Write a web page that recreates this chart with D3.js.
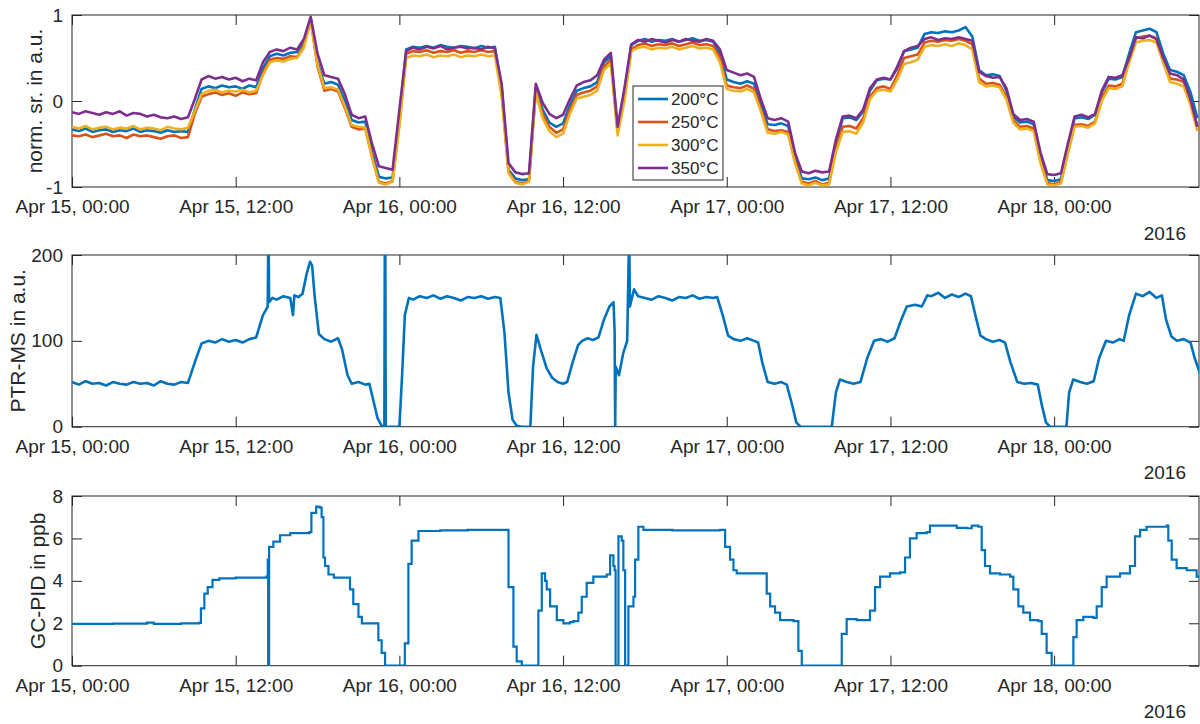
<!DOCTYPE html>
<html>
<head>
<meta charset="utf-8">
<script src="https://cdn.jsdelivr.net/npm/d3@7"></script>
<style>
  body { margin: 0; background: #fff; }
  svg text { font-family: "Liberation Sans", Arial, sans-serif; fill: #262626; }
</style>
</head>
<body>
<svg width="1200" height="724"></svg>
<script>
// time is kept as hours after Apr 15 2016, 00:00
const startDate = new Date(2016, 3, 15, 0, 0);
const endHour = 82.62;
const xTickHours = [0, 12, 24, 36, 48, 60, 72];
const yearLabel = "2016";

const normTicks = [-1, 0, 1];
const ptrTicks = [0, 100, 200];
const gcTicks = [0, 2, 4, 6, 8];

const legendLabels = ["200°C", "250°C", "300°C", "350°C"];
const colors = ["#0072BD", "#D95319", "#EDB120", "#7E2F8E"];

// sensor signals, one value every half hour
const normHours = d3.range(0, 83, 0.5);
const norm200 = [
  -0.33, -0.35, -0.32, -0.36, -0.34, -0.33, -0.36, -0.34, -0.35, -0.32, -0.36, -0.34, -0.35, -0.37, -0.34, -0.36, -0.35, -0.36,
  -0.1, 0.14,
  0.17, 0.15, 0.18, 0.16, 0.17, 0.14, 0.18, 0.16,
  0.38, 0.52,
  0.55, 0.53, 0.56, 0.57,
  0.7, 0.95, 0.45,
  0.2, 0.22, 0.19,
  0.0, -0.22,
  -0.25, -0.24,
  -0.6,
  -0.88, -0.9, -0.89,
  -0.2,
  0.6, 0.63, 0.62, 0.64, 0.62, 0.65, 0.63, 0.62, 0.64, 0.63, 0.61, 0.64, 0.62, 0.63,
  0.15, -0.8,
  -0.9, -0.92, -0.91,
  0.15, -0.1, -0.25, -0.3, -0.26, -0.05, 0.12, 0.15, 0.17, 0.22,
  0.45, 0.52, -0.33, 0.1,
  0.65, 0.7, 0.72, 0.69, 0.71, 0.7, 0.72, 0.69, 0.71, 0.73, 0.7, 0.71, 0.69,
  0.55,
  0.25, 0.22, 0.2, 0.23, 0.2,
  -0.05,
  -0.27, -0.28, -0.26, -0.29,
  -0.65,
  -0.9, -0.91, -0.89, -0.92, -0.9,
  -0.5,
  -0.2, -0.19, -0.22, -0.12,
  0.12,
  0.24, 0.26, 0.25,
  0.38,
  0.58, 0.6, 0.62,
  0.78, 0.8, 0.79, 0.81, 0.8, 0.82, 0.86,
  0.75,
  0.36,
  0.3, 0.31, 0.29,
  0.12, -0.18,
  -0.25, -0.24, -0.27,
  -0.65,
  -0.92, -0.93, -0.91,
  -0.55,
  -0.2, -0.19, -0.21, -0.16,
  0.1,
  0.26, 0.25, 0.28,
  0.55,
  0.8, 0.82, 0.84, 0.8,
  0.55,
  0.36, 0.34, 0.3,
  0.1, -0.2
];
const norm250 = [
  -0.4, -0.41, -0.39, -0.42, -0.4, -0.38, -0.41, -0.4, -0.43, -0.39, -0.41, -0.4, -0.42, -0.44, -0.41, -0.4, -0.43, -0.42,
  -0.15, 0.05,
  0.08, 0.1, 0.07, 0.09, 0.06, 0.1, 0.08, 0.09,
  0.32, 0.48,
  0.5, 0.49, 0.52, 0.51,
  0.65, 0.94, 0.4,
  0.12, 0.14, 0.11,
  -0.08, -0.3,
  -0.33, -0.32,
  -0.65,
  -0.94, -0.96, -0.93,
  -0.25,
  0.55, 0.58, 0.57, 0.59, 0.56, 0.58, 0.57, 0.59, 0.56, 0.58, 0.57, 0.59, 0.57, 0.58,
  0.1, -0.82,
  -0.94, -0.96, -0.93,
  0.12, -0.15, -0.3, -0.37, -0.33, -0.1, 0.07, 0.1, 0.12, 0.17,
  0.4, 0.48, -0.36, 0.05,
  0.6, 0.65, 0.67, 0.64, 0.66, 0.65, 0.67, 0.64, 0.66, 0.68, 0.65, 0.66, 0.64,
  0.5,
  0.18, 0.16, 0.15, 0.18, 0.14,
  -0.1,
  -0.33, -0.35, -0.34, -0.36,
  -0.7,
  -0.94, -0.96, -0.93, -0.97, -0.95,
  -0.55,
  -0.3, -0.29, -0.32, -0.2,
  0.05,
  0.15, 0.17, 0.14,
  0.3,
  0.5, 0.52, 0.54,
  0.68, 0.7, 0.69, 0.71, 0.7, 0.72, 0.7,
  0.66,
  0.26,
  0.2, 0.21, 0.19,
  0.05, -0.22,
  -0.3, -0.29, -0.32,
  -0.7,
  -0.95, -0.97, -0.94,
  -0.6,
  -0.28, -0.27, -0.29, -0.24,
  0.03,
  0.18, 0.17, 0.2,
  0.48,
  0.73, 0.75, 0.76, 0.73,
  0.48,
  0.26, 0.25, 0.22,
  0.0, -0.3
];
const norm300 = [
  -0.3, -0.32, -0.29, -0.33, -0.31, -0.3, -0.33, -0.31, -0.32, -0.29, -0.33, -0.31, -0.32, -0.34, -0.3, -0.32, -0.33, -0.31,
  -0.12, 0.08,
  0.12, 0.13, 0.1, 0.12, 0.11, 0.13, 0.1, 0.12,
  0.3, 0.45,
  0.47, 0.46, 0.49, 0.5,
  0.62, 0.93, 0.42,
  0.15, 0.16, 0.13,
  -0.06, -0.28,
  -0.3, -0.31,
  -0.66,
  -0.95, -0.97, -0.94,
  -0.3,
  0.5, 0.53, 0.52, 0.54, 0.51, 0.53, 0.52, 0.54, 0.51, 0.53, 0.52, 0.54, 0.52, 0.53,
  0.05, -0.84,
  -0.95, -0.97, -0.94,
  0.1, -0.2, -0.35, -0.42, -0.38, -0.15, 0.03, 0.05, 0.07, 0.12,
  0.36, 0.44, -0.4, 0.0,
  0.58, 0.62, 0.63, 0.6, 0.62, 0.61, 0.63, 0.6, 0.62, 0.64, 0.61, 0.62, 0.6,
  0.45,
  0.14, 0.12, 0.11, 0.14, 0.1,
  -0.12,
  -0.37, -0.38, -0.36, -0.39,
  -0.72,
  -0.96, -0.98, -0.95, -0.98, -0.97,
  -0.6,
  -0.36, -0.35, -0.38, -0.25,
  0.02,
  0.12, 0.13, 0.11,
  0.25,
  0.43, 0.45, 0.48,
  0.63, 0.65, 0.64, 0.66, 0.64, 0.67, 0.65,
  0.6,
  0.22,
  0.17, 0.18, 0.16,
  0.02, -0.25,
  -0.33, -0.32, -0.35,
  -0.72,
  -0.97, -0.98, -0.96,
  -0.62,
  -0.3, -0.29, -0.31, -0.26,
  0.0,
  0.15, 0.14, 0.17,
  0.45,
  0.68, 0.7, 0.71, 0.68,
  0.44,
  0.22, 0.2, 0.17,
  -0.05, -0.35
];
const norm350 = [
  -0.13, -0.15, -0.12, -0.14, -0.16, -0.13, -0.15, -0.12, -0.17, -0.14, -0.15, -0.18, -0.16, -0.19, -0.2, -0.18, -0.21, -0.19,
  0.02, 0.25,
  0.29, 0.26, 0.28, 0.25, 0.27, 0.23, 0.26, 0.24,
  0.45, 0.57,
  0.6, 0.58, 0.62, 0.6,
  0.72, 0.98, 0.55,
  0.3, 0.28, 0.26,
  0.08, -0.16,
  -0.2, -0.18,
  -0.5,
  -0.76, -0.78, -0.8,
  -0.1,
  0.58, 0.62, 0.6, 0.63, 0.61, 0.64, 0.6, 0.62, 0.63, 0.61, 0.62, 0.6, 0.63, 0.61,
  0.2, -0.72,
  -0.83, -0.85, -0.84,
  0.2, -0.02, -0.15, -0.2, -0.16, 0.02, 0.18, 0.22, 0.24, 0.3,
  0.48, 0.56, -0.3, 0.15,
  0.66, 0.71, 0.69, 0.72, 0.7, 0.68, 0.71, 0.69, 0.72, 0.7, 0.69, 0.72, 0.7,
  0.6,
  0.36, 0.33, 0.3, 0.32, 0.28,
  0.02,
  -0.2, -0.22, -0.2, -0.24,
  -0.6,
  -0.82, -0.84, -0.81, -0.83, -0.82,
  -0.45,
  -0.18, -0.17, -0.2, -0.1,
  0.15,
  0.25, 0.27, 0.25,
  0.4,
  0.58, 0.62, 0.64,
  0.72, 0.74, 0.71, 0.73, 0.72, 0.74, 0.72,
  0.7,
  0.34,
  0.29, 0.27, 0.28,
  0.15, -0.15,
  -0.22, -0.21, -0.24,
  -0.6,
  -0.85, -0.86, -0.84,
  -0.5,
  -0.18, -0.16, -0.19, -0.15,
  0.12,
  0.28, 0.27, 0.3,
  0.5,
  0.74, 0.73, 0.76, 0.72,
  0.5,
  0.32, 0.3, 0.25,
  0.02, -0.3
];

// PTR-MS as [hour, value]
const ptrData = [
  [0, 52], [0.5, 49], [1, 53], [1.5, 50], [2, 51], [2.5, 48], [3, 52], [3.5, 50], [4, 49], [4.5, 52],
  [5, 50], [5.5, 51], [6, 48], [6.5, 53], [7, 50], [7.5, 49], [8, 52], [8.5, 51],
  [9, 75], [9.5, 97], [10, 100], [10.5, 98], [11, 102], [11.5, 99], [12, 101], [12.5, 98], [13, 102], [13.5, 104],
  [14, 130], [14.35, 140], [14.38, 205], [14.42, 205], [14.45, 145], [14.7, 150], [15, 148], [15.5, 152],
  [16, 150], [16.2, 130], [16.3, 153], [16.6, 151], [16.9, 155],
  [17.2, 178], [17.45, 192], [17.6, 188], [17.8, 150], [18.1, 108], [18.5, 102], [19, 99], [19.5, 103],
  [19.8, 90], [20.2, 60], [20.5, 50], [21, 52], [21.5, 49], [21.8, 50],
  [22.1, 30], [22.4, 10], [22.7, 1], [22.9, 0], [22.93, 205], [22.97, 205], [23.0, 0], [23.5, 0], [24, 0],
  [24.2, 60], [24.4, 130], [24.7, 150], [25, 148], [25.5, 152], [26, 150], [26.5, 153], [27, 149], [27.5, 152],
  [28, 150], [28.5, 147], [29, 151], [29.5, 150], [30, 152], [30.5, 149], [31, 151], [31.4, 150],
  [31.7, 110], [32, 40], [32.3, 8], [32.6, 1], [33, 0], [33.6, 0],
  [33.8, 70], [34.05, 107], [34.4, 88], [34.8, 68], [35.2, 57], [35.6, 52], [36, 50], [36.3, 52],
  [36.7, 75], [37.1, 95], [37.4, 100], [37.8, 103], [38.2, 101], [38.6, 104],
  [39, 125], [39.4, 140], [39.7, 145], [39.78, 110], [39.82, 0], [39.86, 70], [40.1, 60], [40.4, 85], [40.7, 100],
  [40.82, 205], [40.86, 205], [40.9, 140], [41.2, 160], [41.5, 152], [42, 150], [42.5, 148], [43, 152], [43.5, 150],
  [44, 147], [44.5, 151], [45, 150], [45.5, 153], [46, 149], [46.5, 151], [47, 150], [47.3, 151],
  [47.7, 130], [48.1, 106], [48.5, 102], [49, 100], [49.5, 103], [50, 100], [50.3, 98],
  [50.6, 75], [51, 52], [51.5, 50], [52, 52], [52.4, 49],
  [52.8, 25], [53.1, 5], [53.4, 0], [55.7, 0],
  [56, 40], [56.3, 55], [56.8, 52], [57.3, 50], [57.8, 52],
  [58.3, 80], [58.8, 100], [59.3, 102], [59.8, 99], [60.3, 103],
  [60.8, 125], [61.2, 140], [61.8, 142], [62.3, 140],
  [62.7, 153], [63, 152], [63.5, 156], [64, 150], [64.5, 154], [65, 151], [65.5, 155], [65.9, 152],
  [66.3, 125], [66.6, 106], [67, 102], [67.5, 99], [68, 101], [68.4, 98],
  [68.8, 75], [69.3, 52], [69.8, 50], [70.3, 51], [70.8, 49],
  [71.1, 25], [71.4, 5], [71.7, 0], [72.9, 0],
  [73.1, 40], [73.4, 55], [73.9, 52], [74.4, 50], [74.9, 53],
  [75.3, 80], [75.8, 100], [76.3, 98], [76.8, 102], [77.1, 100],
  [77.5, 130], [78, 155], [78.5, 152], [79, 157], [79.5, 150], [79.9, 153],
  [80.2, 125], [80.6, 105], [81, 100], [81.5, 102], [82, 98], [82.3, 80], [82.7, 62]
];

// GC-PID as [hour, value], held until the next sample
const gcData = [
  [0, 1.97], [3, 1.98], [5.5, 2.03], [6, 1.97], [8, 2.0], [9.3, 2.02], [9.45, 2.7], [9.7, 3.4], [9.95, 3.7],
  [10.3, 4.05], [10.8, 4.12], [12, 4.15], [14.25, 4.2],
  [14.35, 5.0], [14.38, 0], [14.41, 0], [14.45, 5.6], [14.76, 5.85], [15.25, 6.15], [16, 6.25], [17.4, 6.3],
  [17.55, 7.2], [17.9, 7.5], [18.15, 7.45], [18.3, 7.0], [18.43, 5.1], [18.55, 4.7], [18.8, 4.3], [19.2, 4.15],
  [20.1, 4.15], [20.38, 3.6], [20.62, 2.9], [21, 2.3], [21.25, 2.0], [22.2, 2.0], [22.46, 1.2], [22.7, 0.6],
  [22.95, 0], [24.3, 0],
  [24.4, 1.05], [24.66, 4.8], [24.9, 5.9], [25.4, 6.35], [27, 6.38], [29, 6.4], [31.85, 6.4], [32, 3.7],
  [32.36, 0.9], [32.6, 0.2], [32.97, 0], [34.07, 0], [34.19, 2.6], [34.44, 4.35], [34.68, 4.0], [34.8, 3.6],
  [35.05, 2.8], [35.54, 2.15], [36.02, 2.0], [36.5, 2.05], [36.76, 2.1], [37.12, 2.5], [37.37, 3.25],
  [37.73, 3.9], [38.22, 4.2], [39.2, 4.3], [39.45, 5.2], [39.69, 4.7], [39.78, 4.5], [39.85, 0], [39.93, 0],
  [40.06, 6.1], [40.3, 5.9], [40.42, 4.5], [40.55, 0], [40.67, 0], [40.79, 2.8], [41.16, 3.25], [41.28, 5.0],
  [41.52, 6.55], [41.89, 6.4], [44, 6.38], [47.5, 6.4], [47.88, 5.6], [48.24, 5.0], [48.49, 4.5], [48.73, 4.35],
  [50.57, 4.35], [50.93, 3.4], [51.18, 2.8], [51.54, 2.5], [51.91, 2.15], [52.89, 2.1], [53.25, 0.7], [53.5, 0],
  [56.3, 0],
  [56.43, 1.5], [56.79, 2.2], [57.53, 2.15], [58.26, 2.15], [58.5, 2.6], [58.87, 3.7], [59.24, 4.2], [59.97, 4.35],
  [60.7, 4.4], [61.07, 5.1], [61.43, 6.0], [61.92, 6.25], [62.66, 6.3], [62.9, 6.6], [63.88, 6.6], [64.86, 6.5],
  [65.59, 6.48], [65.96, 6.6], [66.44, 6.55], [66.69, 5.45], [66.93, 4.7], [67.3, 4.35], [68.03, 4.3],
  [68.77, 4.2], [69.01, 3.6], [69.38, 2.8], [69.74, 2.5], [70.23, 2.15], [70.84, 2.1], [71.09, 1.5],
  [71.45, 0.6], [71.82, 0], [73.16, 0],
  [73.41, 1.35], [73.65, 2.15], [74.14, 2.3], [74.88, 2.25], [75.12, 2.8], [75.49, 3.7], [75.85, 4.2],
  [76.83, 4.35], [77.56, 4.7], [77.93, 6.1], [78.3, 6.4], [78.78, 6.55], [80.25, 6.6], [80.37, 5.9],
  [80.62, 5.0], [80.98, 4.6], [81.72, 4.5], [82.45, 4.2], [82.7, 3.9]
];

let svg = d3.select("svg");
svg.append("rect").attr("width", 1200).attr("height", 724).attr("fill", "#fff");

const axisColor = "#262626";
const left = 72,
  right = 1199;

function toDate(h) {
  return new Date(startDate.getTime() + h * 3600000);
}

let x = d3
  .scaleTime()
  .domain([toDate(0), toDate(endHour)])
  .range([left, right]);
const fmt = d3.timeFormat("%b %d, %H:%M");

//one axes box with ticks all round, like matlab
function drawPanel(id, top, bottom, yDomain, yTicks, yLabel, labelX) {
  let y = d3.scaleLinear().domain(yDomain).range([bottom, top]);
  let g = svg.append("g").attr("class", "panel-" + id);

  svg
    .append("clipPath")
    .attr("id", "clip-" + id)
    .append("rect")
    .attr("x", left)
    .attr("y", top)
    .attr("width", right - left)
    .attr("height", bottom - top);

  let ticks = xTickHours.map(toDate);

  let gx = g
    .append("g")
    .attr("transform", "translate(0," + bottom + ")")
    .call(
      d3
        .axisBottom(x)
        .tickValues(ticks)
        .tickFormat(fmt)
        .tickSizeInner(-10)
        .tickSizeOuter(0)
        .tickPadding(13)
    );
  g.append("g")
    .attr("transform", "translate(0," + top + ")")
    .call(d3.axisTop(x).tickValues(ticks).tickFormat("").tickSizeInner(-10).tickSizeOuter(0));
  let gy = g
    .append("g")
    .attr("transform", "translate(" + left + ",0)")
    .call(
      d3
        .axisLeft(y)
        .tickValues(yTicks)
        .tickFormat(function(d) {
          return String(d);
        })
        .tickSizeInner(-10)
        .tickSizeOuter(0)
        .tickPadding(9)
    );
  g.append("g")
    .attr("transform", "translate(" + right + ",0)")
    .call(d3.axisRight(y).tickValues(yTicks).tickFormat("").tickSizeInner(-10).tickSizeOuter(0));

  g.selectAll(".domain").remove();
  g.selectAll(".tick line").attr("stroke", axisColor);
  gx.selectAll("text").attr("font-size", 19);
  gy.selectAll("text").attr("font-size", 19);
  g.selectAll("g").attr("font-family", null);

  g.append("rect")
    .attr("x", left)
    .attr("y", top)
    .attr("width", right - left)
    .attr("height", bottom - top)
    .attr("fill", "none")
    .attr("stroke", axisColor)
    .attr("stroke-width", 1);

  g.append("text")
    .attr("x", 1186)
    .attr("y", bottom + 52.5)
    .attr("text-anchor", "end")
    .attr("font-size", 19)
    .text(yearLabel);

  g.append("text")
    .attr("transform", "translate(" + labelX + "," + (top + bottom) / 2 + ") rotate(-90)")
    .attr("text-anchor", "middle")
    .attr("font-size", 21)
    .text(yLabel);

  let plot = g.append("g").attr("clip-path", "url(#clip-" + id + ")");
  return { y: y, plot: plot };
}

// PANEL 1
let p1 = drawPanel("norm", 15, 187, [-1, 1], normTicks, "norm. sr. in a.u.", 42);
let normSeries = [norm200, norm250, norm300, norm350];
let line1 = d3
  .line()
  .x(function(d) {
    return x(toDate(d[0]));
  })
  .y(function(d) {
    return p1.y(d[1]);
  });
normSeries.forEach(function(vals, i) {
  let pts = vals.map(function(v, k) {
    return [normHours[k], v];
  });
  p1.plot
    .append("path")
    .datum(pts)
    .attr("fill", "none")
    .attr("stroke", colors[i])
    .attr("stroke-width", 2.6)
    .attr("stroke-linejoin", "round")
    .attr("d", line1);
});

// LEGEND
let legend = svg.append("g").attr("transform", "translate(633,86)");
legend
  .append("rect")
  .attr("width", 90)
  .attr("height", 94)
  .attr("fill", "#fff")
  .attr("stroke", axisColor);
legendLabels.forEach(function(lab, i) {
  let ly = 13 + i * 23;
  legend
    .append("line")
    .attr("x1", 5)
    .attr("x2", 35)
    .attr("y1", ly)
    .attr("y2", ly)
    .attr("stroke", colors[i])
    .attr("stroke-width", 2.6);
  legend
    .append("text")
    .attr("x", 38)
    .attr("y", ly)
    .attr("dy", "0.35em")
    .attr("font-size", 17)
    .text(lab);
});

// PANEL 2
let p2 = drawPanel("ptr", 255, 426.7, [0, 200], ptrTicks, "PTR-MS in a.u.", 25);
p2.plot
  .append("path")
  .datum(ptrData)
  .attr("fill", "none")
  .attr("stroke", colors[0])
  .attr("stroke-width", 2.6)
  .attr("stroke-linejoin", "round")
  .attr(
    "d",
    d3
      .line()
      .x(function(d) {
        return x(toDate(d[0]));
      })
      .y(function(d) {
        return p2.y(d[1]);
      })
  );

// PANEL 3
let p3 = drawPanel("gc", 496, 665.7, [0, 8], gcTicks, "GC-PID in ppb", 45);
p3.plot
  .append("path")
  .datum(gcData)
  .attr("fill", "none")
  .attr("stroke", colors[0])
  .attr("stroke-width", 2.2)
  .attr(
    "d",
    d3
      .line()
      .curve(d3.curveStepAfter)
      .x(function(d) {
        return x(toDate(d[0]));
      })
      .y(function(d) {
        return p3.y(d[1]);
      })
  );
</script>
</body>
</html>
